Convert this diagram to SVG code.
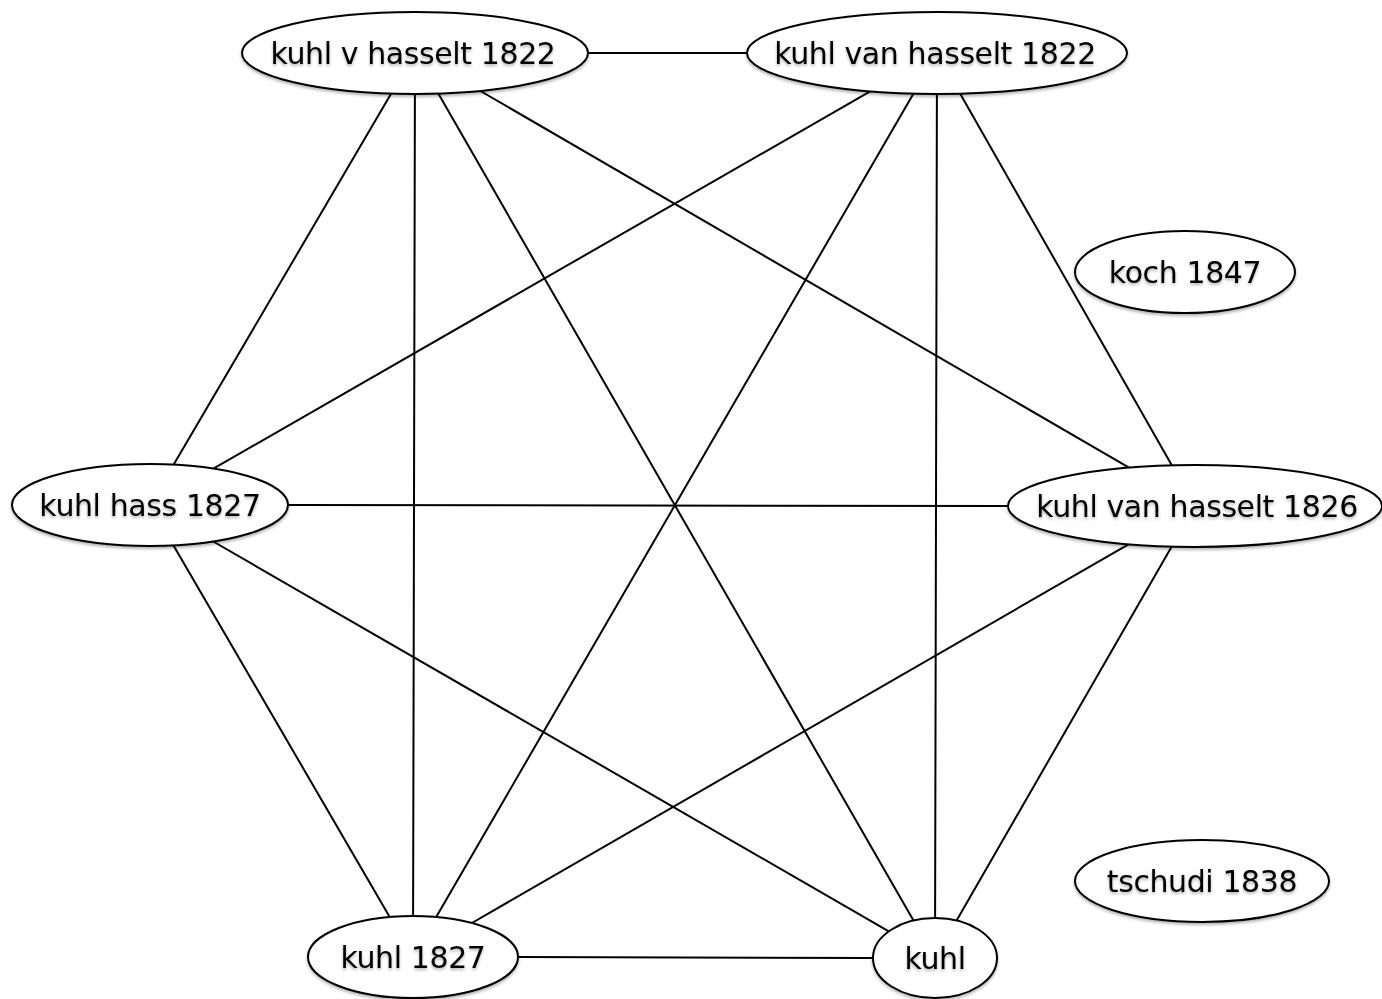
<svg xmlns="http://www.w3.org/2000/svg" width="1382" height="999" viewBox="0 0 1382 999">
  <defs>
    <filter id="soft" x="-10%" y="-20%" width="120%" height="150%">
      <feDropShadow dx="0" dy="2" stdDeviation="1.6" flood-color="#000" flood-opacity="0.3"/>
    </filter>
    <style>
      .node ellipse { fill: #fff; stroke: #000; stroke-width: 2; filter: url(#soft); }
      .node text { font-family: "DejaVu Sans", "Liberation Sans", sans-serif; font-size: 30px; letter-spacing: -0.4px; fill: #000; text-anchor: middle; filter: url(#soft); }
      #edges line { stroke: #000; stroke-width: 2; stroke-linecap: round; }
    </style>
  </defs>
  <rect width="1382" height="999" fill="#fff"/>

  <!-- connectors: complete graph between the six linked names -->
  <g id="edges">
    <line x1="588" y1="53" x2="747" y2="53"/>
    <line x1="391.2" y1="93.6" x2="173.7" y2="464.6"/>
    <line x1="414.9" y1="94" x2="413.1" y2="916"/>
    <line x1="438.3" y1="93.6" x2="913.5" y2="920.5"/>
    <line x1="480.4" y1="91" x2="1129" y2="467.6"/>
    <line x1="870.2" y1="91.4" x2="213.4" y2="468.6"/>
    <line x1="913.4" y1="93.7" x2="436.2" y2="917"/>
    <line x1="936.9" y1="94" x2="935.1" y2="918"/>
    <line x1="960.2" y1="93.7" x2="1171.8" y2="465.3"/>
    <line x1="288" y1="505" x2="1008" y2="506"/>
    <line x1="173.5" y1="545.4" x2="389.7" y2="917"/>
    <line x1="213.2" y1="541.5" x2="888.8" y2="931.3"/>
    <line x1="1128.5" y1="544.3" x2="471.9" y2="923"/>
    <line x1="1171.6" y1="546.7" x2="956.6" y2="920.5"/>
    <line x1="518" y1="957" x2="873" y2="958"/>
  </g>

  <g id="n-kuhl-v-hasselt-1822" class="node">
    <ellipse cx="415" cy="53" rx="173" ry="41"/>
    <text x="413" y="64">kuhl v hasselt 1822</text>
  </g>
  <g id="n-kuhl-van-hasselt-1822" class="node">
    <ellipse cx="937" cy="53" rx="190" ry="41"/>
    <text x="935" y="64">kuhl van hasselt 1822</text>
  </g>
  <g id="n-koch-1847" class="node">
    <ellipse cx="1185" cy="272" rx="110" ry="41"/>
    <text x="1185" y="283">koch 1847</text>
  </g>
  <g id="n-kuhl-hass-1827" class="node">
    <ellipse cx="150" cy="505" rx="138" ry="41"/>
    <text x="150" y="516">kuhl hass 1827</text>
  </g>
  <g id="n-kuhl-van-hasselt-1826" class="node">
    <ellipse cx="1195" cy="506" rx="187" ry="41"/>
    <text x="1197" y="517">kuhl van hasselt 1826</text>
  </g>
  <g id="n-tschudi-1838" class="node">
    <ellipse cx="1202" cy="881" rx="127" ry="41"/>
    <text x="1202" y="892">tschudi 1838</text>
  </g>
  <g id="n-kuhl-1827" class="node">
    <ellipse cx="413" cy="957" rx="105" ry="41"/>
    <text x="413" y="968">kuhl 1827</text>
  </g>
  <g id="n-kuhl" class="node">
    <ellipse cx="935" cy="958" rx="62" ry="40"/>
    <text x="935" y="969">kuhl</text>
  </g>
</svg>
